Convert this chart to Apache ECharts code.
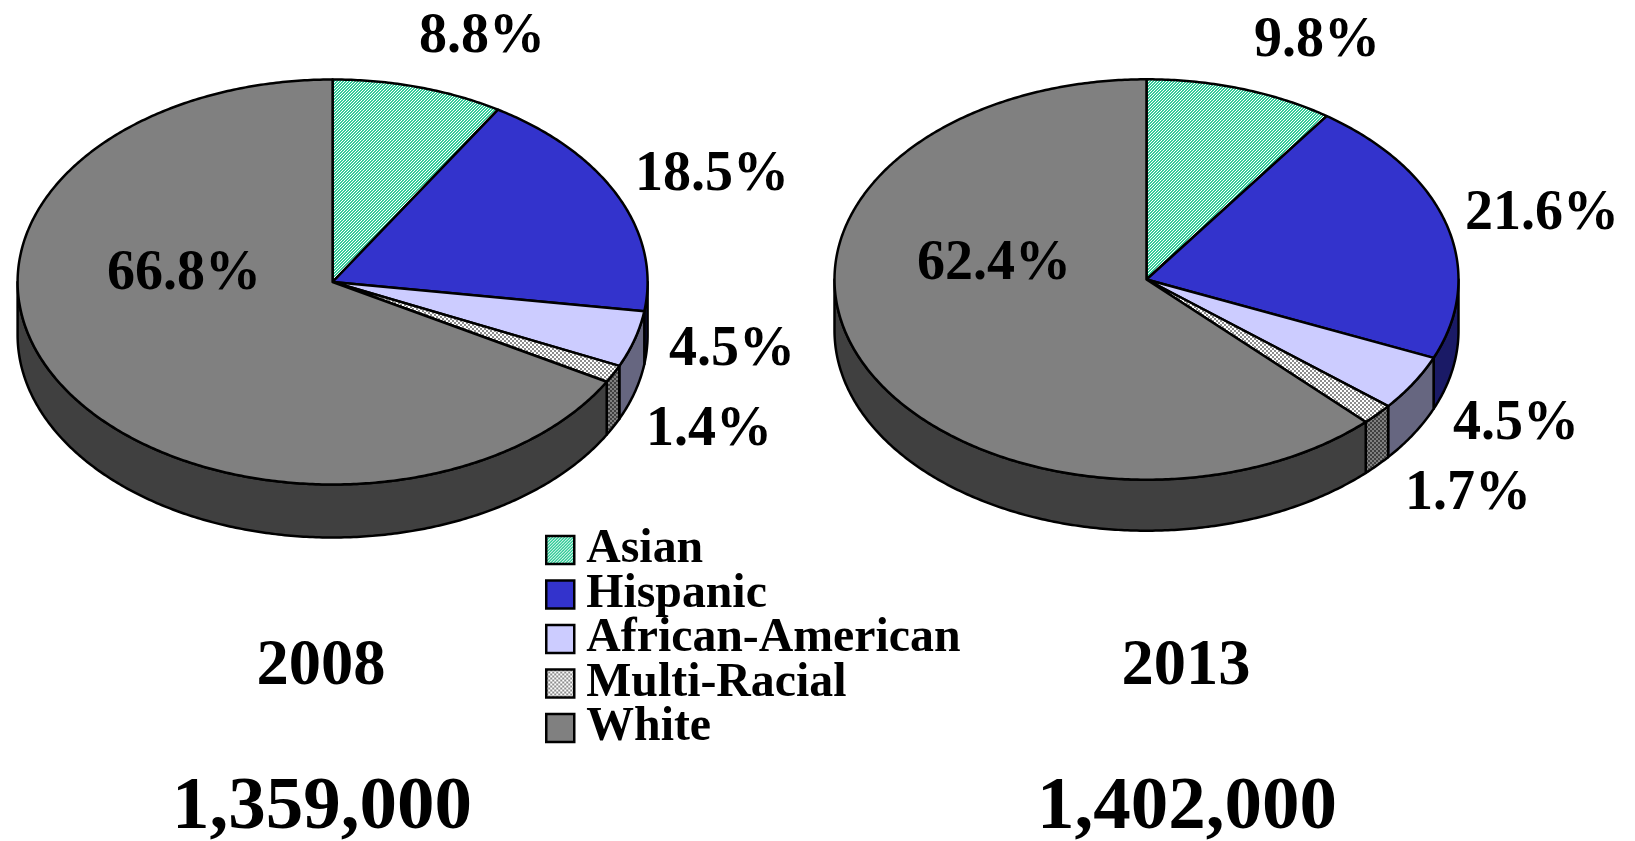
<!DOCTYPE html>
<html><head><meta charset="utf-8">
<style>html,body{margin:0;padding:0;background:#fff}#c{width:1635px;height:841px}</style>
<script src="https://cdn.jsdelivr.net/npm/echarts@6/dist/echarts.min.js"></script>
</head><body><div id="c"></div>
<script>
const categories = ['Asian','Hispanic','African-American','Multi-Racial','White'];
const values2008 = [8.8,18.5,4.5,1.4,66.8];
const values2013 = [9.8,21.6,4.5,1.7,62.4];
const years = ['2008','2013'];
const totals = ['1,359,000','1,402,000'];

function hatch(bg, fg, cells){
  const n = cells.length, cv = document.createElement('canvas');
  cv.width = n; cv.height = n;
  const g = cv.getContext('2d');
  g.fillStyle = bg; g.fillRect(0,0,n,n);
  g.fillStyle = fg;
  cells.forEach((row,y)=>row.forEach((on,x)=>{ if(on) g.fillRect(x,y,1,1); }));
  return {image:cv, repeat:'repeat'};
}
const diag = [[1,1,0],[1,0,1],[0,1,1]];
const dots = [[1,1,0,0],[1,1,0,0],[0,0,1,1],[0,0,1,1]];
const topFills = [hatch('#ffffff','#33cc99',diag),'#3333cc','#ccccff',hatch('#ffffff','#8c8c8c',dots),'#808080'];
const sideFills = [hatch('#808080','#1a6650',diag),'#1a1a66','#666680',hatch('#808080','#404040',dots),'#404040'];

const pieBoxes = [
  {cx:332.6, cy:282, rx:315, ry:202.5, depth:53},
  {cx:1146.5, cy:279.5, rx:312, ry:200.2, depth:51}
];
const labelSpots = [
  [[482,38],[712,176],[732,351],[709,431],[184,275]],
  [[1317,42],[1542,215],[1516,425],[1468,495],[994,265]]
];
const yearSpots = [[321,667],[1186,667]];
const totalSpots = [[322,809],[1187,809]];

function arc(api,a0,a1,dy){
  const pts=[], n=Math.max(2,Math.ceil((a1-a0)/0.01));
  for(let i=0;i<=n;i++){
    const a=a0+(a1-a0)*i/n, p=api.coord([Math.sin(a),Math.cos(a)]);
    pts.push([p[0],p[1]+dy]);
  }
  return pts;
}
function makeRender(idx,depth){
  return function(params,api){
    const a0=api.value(0)/100*2*Math.PI, a1=api.value(1)/100*2*Math.PI;
    const line={stroke:'#000',lineWidth:2.5,lineJoin:'round'};
    const children=[];
    const w0=Math.max(a0,Math.PI/2), w1=Math.min(a1,3*Math.PI/2);
    if(w1>w0){
      const upper=arc(api,w0,w1,0), lower=arc(api,w0,w1,depth).reverse();
      children.push({type:'polygon',shape:{points:upper.concat(lower)},
        style:Object.assign({fill:sideFills[idx]},line)});
    }
    children.push({type:'polygon',shape:{points:[api.coord([0,0])].concat(arc(api,a0,a1,0))},
      style:Object.assign({fill:topFills[idx]},line)});
    return {type:'group',children};
  };
}
const grids=pieBoxes.map(b=>({left:b.cx-b.rx,top:b.cy-b.ry,width:2*b.rx,height:2*b.ry}));
const axis=(i)=>({type:'value',gridIndex:i,min:-1,max:1,show:false});
const series=[];
[values2008,values2013].forEach((vals,g)=>{
  let acc=0;
  vals.forEach((v,i)=>{
    const start=acc; acc+=v;
    series.push({type:'custom',name:categories[i],xAxisIndex:g,yAxisIndex:g,clip:false,silent:true,
      itemStyle:{color:topFills[i]},
      encode:{x:0,y:1},
      renderItem:makeRender(i,pieBoxes[g].depth),
      data:[[start,acc]]});
  });
});
const font={fontFamily:'"Liberation Serif"',fontWeight:'bold',fill:'#000'};
const txt=(t,p,size)=>({type:'text',x:p[0],y:p[1],silent:true,z:50,
  style:Object.assign({text:t,fontSize:size,align:'center',verticalAlign:'middle'},font)});
const graphics=[];
[values2008,values2013].forEach((vals,g)=>{
  vals.forEach((v,i)=>graphics.push(txt(v.toFixed(1)+'%',labelSpots[g][i],56)));
  graphics.push(txt(years[g],yearSpots[g],64.5));
  graphics.push(txt(totals[g],totalSpots[g],75));
});
const chart=echarts.init(document.getElementById('c'));
chart.setOption({
  animation:false,backgroundColor:'#fff',
  grid:grids,xAxis:[axis(0),axis(1)],yAxis:[axis(0),axis(1)],
  tooltip:{show:false},
  legend:{show:true,orient:'vertical',left:540,top:521,height:300,selectedMode:false,
    data:categories,icon:'rect',itemWidth:28,itemHeight:28,itemGap:-3.5,
    itemStyle:{borderColor:'#000',borderWidth:2.5},
    textStyle:{fontFamily:'"Liberation Serif"',fontWeight:'bold',fontSize:47.8,color:'#000',padding:[0,0,0,7]}},
  series,graphic:graphics
});
</script></body></html>
